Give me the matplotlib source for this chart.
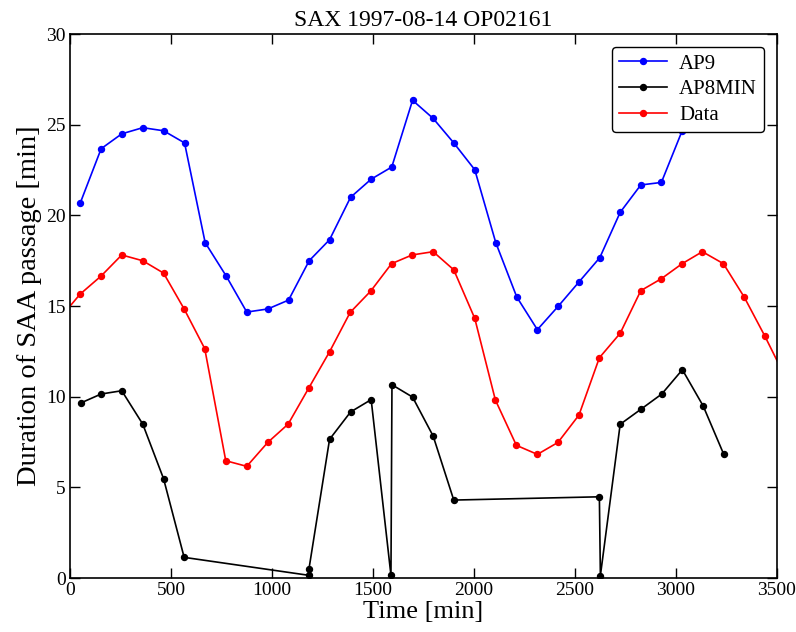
import matplotlib
matplotlib.use("Agg")
import matplotlib.pyplot as plt

plt.rcParams['font.family'] = ['Liberation Serif', 'DejaVu Serif']
plt.rcParams['mathtext.fontset'] = 'dejavuserif'

# Orbit times [min] and SAA passage durations [min]
t_ap9 = [50, 154, 256, 360, 463, 567, 669, 773, 875, 979, 1082, 1184, 1285,
         1389, 1491, 1593, 1696, 1798, 1900, 2004, 2108, 2212, 2314, 2418,
         2520, 2623, 2724, 2826, 2928, 3031, 3133, 3235]
d_ap9 = [20.67, 23.68, 24.5, 24.84, 24.67, 24.0, 18.5, 16.66, 14.67, 14.84,
         15.33, 17.5, 18.66, 21.0, 22.0, 22.67, 26.35, 25.35, 24.0, 22.52,
         18.5, 15.5, 13.7, 15.0, 16.33, 17.67, 20.17, 21.68, 21.82, 24.67,
         26.0, 24.84]

t_ap8 = [52, 154, 256, 360, 463, 565, 1182, 1183, 1285, 1389, 1491, 1589,
         1594, 1696, 1798, 1900, 2621, 2626, 2724, 2828, 2930, 3032, 3135,
         3237]
d_ap8 = [9.65, 10.15, 10.33, 8.49, 5.48, 1.14, 0.15, 0.5, 7.65, 9.16, 9.84,
         0.15, 10.66, 9.98, 7.83, 4.3, 4.48, 0.13, 8.48, 9.32, 10.15, 11.49,
         9.49, 6.82]

t_data = [-53, 50, 154, 256, 360, 463, 565, 667, 771, 875, 979, 1080, 1182,
          1285, 1387, 1489, 1592, 1694, 1798, 1900, 2004, 2106, 2210, 2314,
          2416, 2520, 2621, 2724, 2826, 2928, 3031, 3131, 3235, 3338, 3441,
          3545]
d_data = [14.3, 15.66, 16.66, 17.82, 17.5, 16.82, 14.84, 12.65, 6.47, 6.16,
          7.48, 8.49, 10.48, 12.48, 14.65, 15.83, 17.34, 17.82, 18.0, 17.0,
          14.32, 9.82, 7.32, 6.82, 7.48, 8.99, 12.15, 13.5, 15.85, 16.51,
          17.34, 18.0, 17.34, 15.5, 13.33, 11.0]

fig = plt.figure(figsize=(7.96, 6.32), dpi=100)
ax = fig.add_axes([0.088, 0.0854, 0.888, 0.8606])

ax.plot(t_ap9, d_ap9, '-o', color='blue', lw=1.2, ms=4.3, label='AP9')
ax.plot(t_ap8, d_ap8, '-o', color='black', lw=1.2, ms=4.3, label='AP8MIN')
ax.plot(t_data, d_data, '-o', color='red', lw=1.2, ms=4.3, label='Data')

ax.set_xlim(0, 3500)
ax.set_ylim(0, 30)
ax.set_xticks(range(0, 3501, 500))
ax.set_yticks(range(0, 31, 5))
ax.tick_params(direction='in', top=True, right=True, length=7, width=1,
               labelsize=14, pad=3)
for s in ax.spines.values():
    s.set_linewidth(1.2)

ax.set_title('SAX 1997-08-14 OP02161', fontsize=17, pad=6)
ax.set_xlabel('Time [min]', fontsize=19, labelpad=1)
ax.set_ylabel('Duration of SAA passage [min]', fontsize=20.5, labelpad=3)

leg = ax.legend(loc='upper right', numpoints=1, fontsize=15, fancybox=True,
                framealpha=1, edgecolor='black', borderaxespad=0.6,
                handlelength=2.3, labelspacing=0.3, borderpad=0.35,
                handletextpad=0.6)
leg.get_frame().set_linewidth(1.0)

fig.savefig('out.png', dpi=100)
